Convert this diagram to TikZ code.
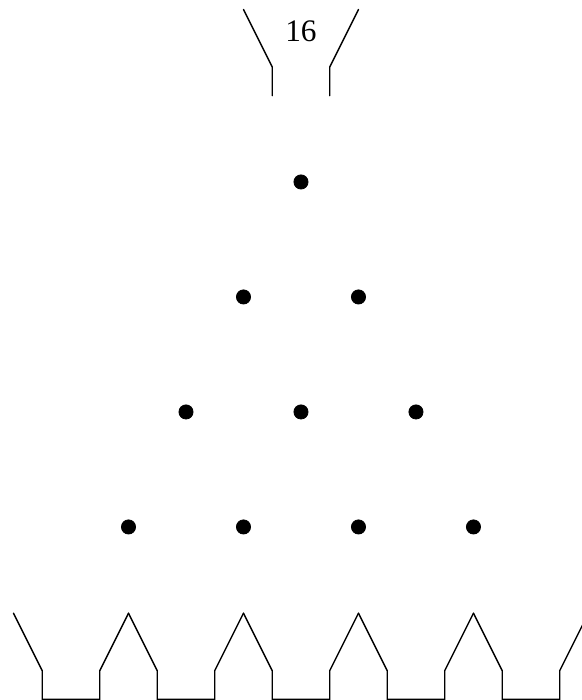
\documentclass[tikz,border=0pt]{standalone}
\usepackage{fontspec}
\setmainfont{Liberation Serif}
\usepackage{tkz-euclide}

\begin{document}
\begin{tikzpicture}
\tkzSetUpLine[line width=0.7pt,color=black]
\tkzSetUpPoint[fill=black]
\useasboundingbox (-5.235,-9.01) rectangle (4.887,3.165);

% pegs
\tkzDefPoints{0/0/K1,-1/-2/K2,1/-2/K3,-2/-4/K4,0/-4/K5,2/-4/K6,-3/-6/K7,-1/-6/K8,1/-6/K9,3/-6/K10}

% funnel
\tkzDefPoints{-1/3/F1,-0.5/2/F2,-0.5/1.5/F3,1/3/F4,0.5/2/F5,0.5/1.5/F6}
\tkzDrawPolySeg(F1,F2,F3)
\tkzDrawPolySeg(F4,F5,F6)

\node (count) at (0,2.62) {\fontsize{15.5}{18}\selectfont 16};

% bins
\foreach \i in {0,...,4}{
  \pgfmathsetmacro{\xl}{2*\i-5}
  \pgfmathsetmacro{\xr}{2*\i-3}
  \tkzDefPoint(\xl,-7.5){P}
  \tkzDefPoint(\xl+0.5,-8.5){Q}
  \tkzDefPoint(\xl+0.5,-9){R}
  \tkzDefPoint(\xr-0.5,-9){S}
  \tkzDefPoint(\xr-0.5,-8.5){T}
  \tkzDefPoint(\xr,-7.5){U}
  \tkzDrawPolySeg(P,Q,R,S,T,U)
}

\tkzDrawPoints[size=7](K1,K2,K3,K4,K5,K6,K7,K8,K9,K10)

\end{tikzpicture}
\end{document}
